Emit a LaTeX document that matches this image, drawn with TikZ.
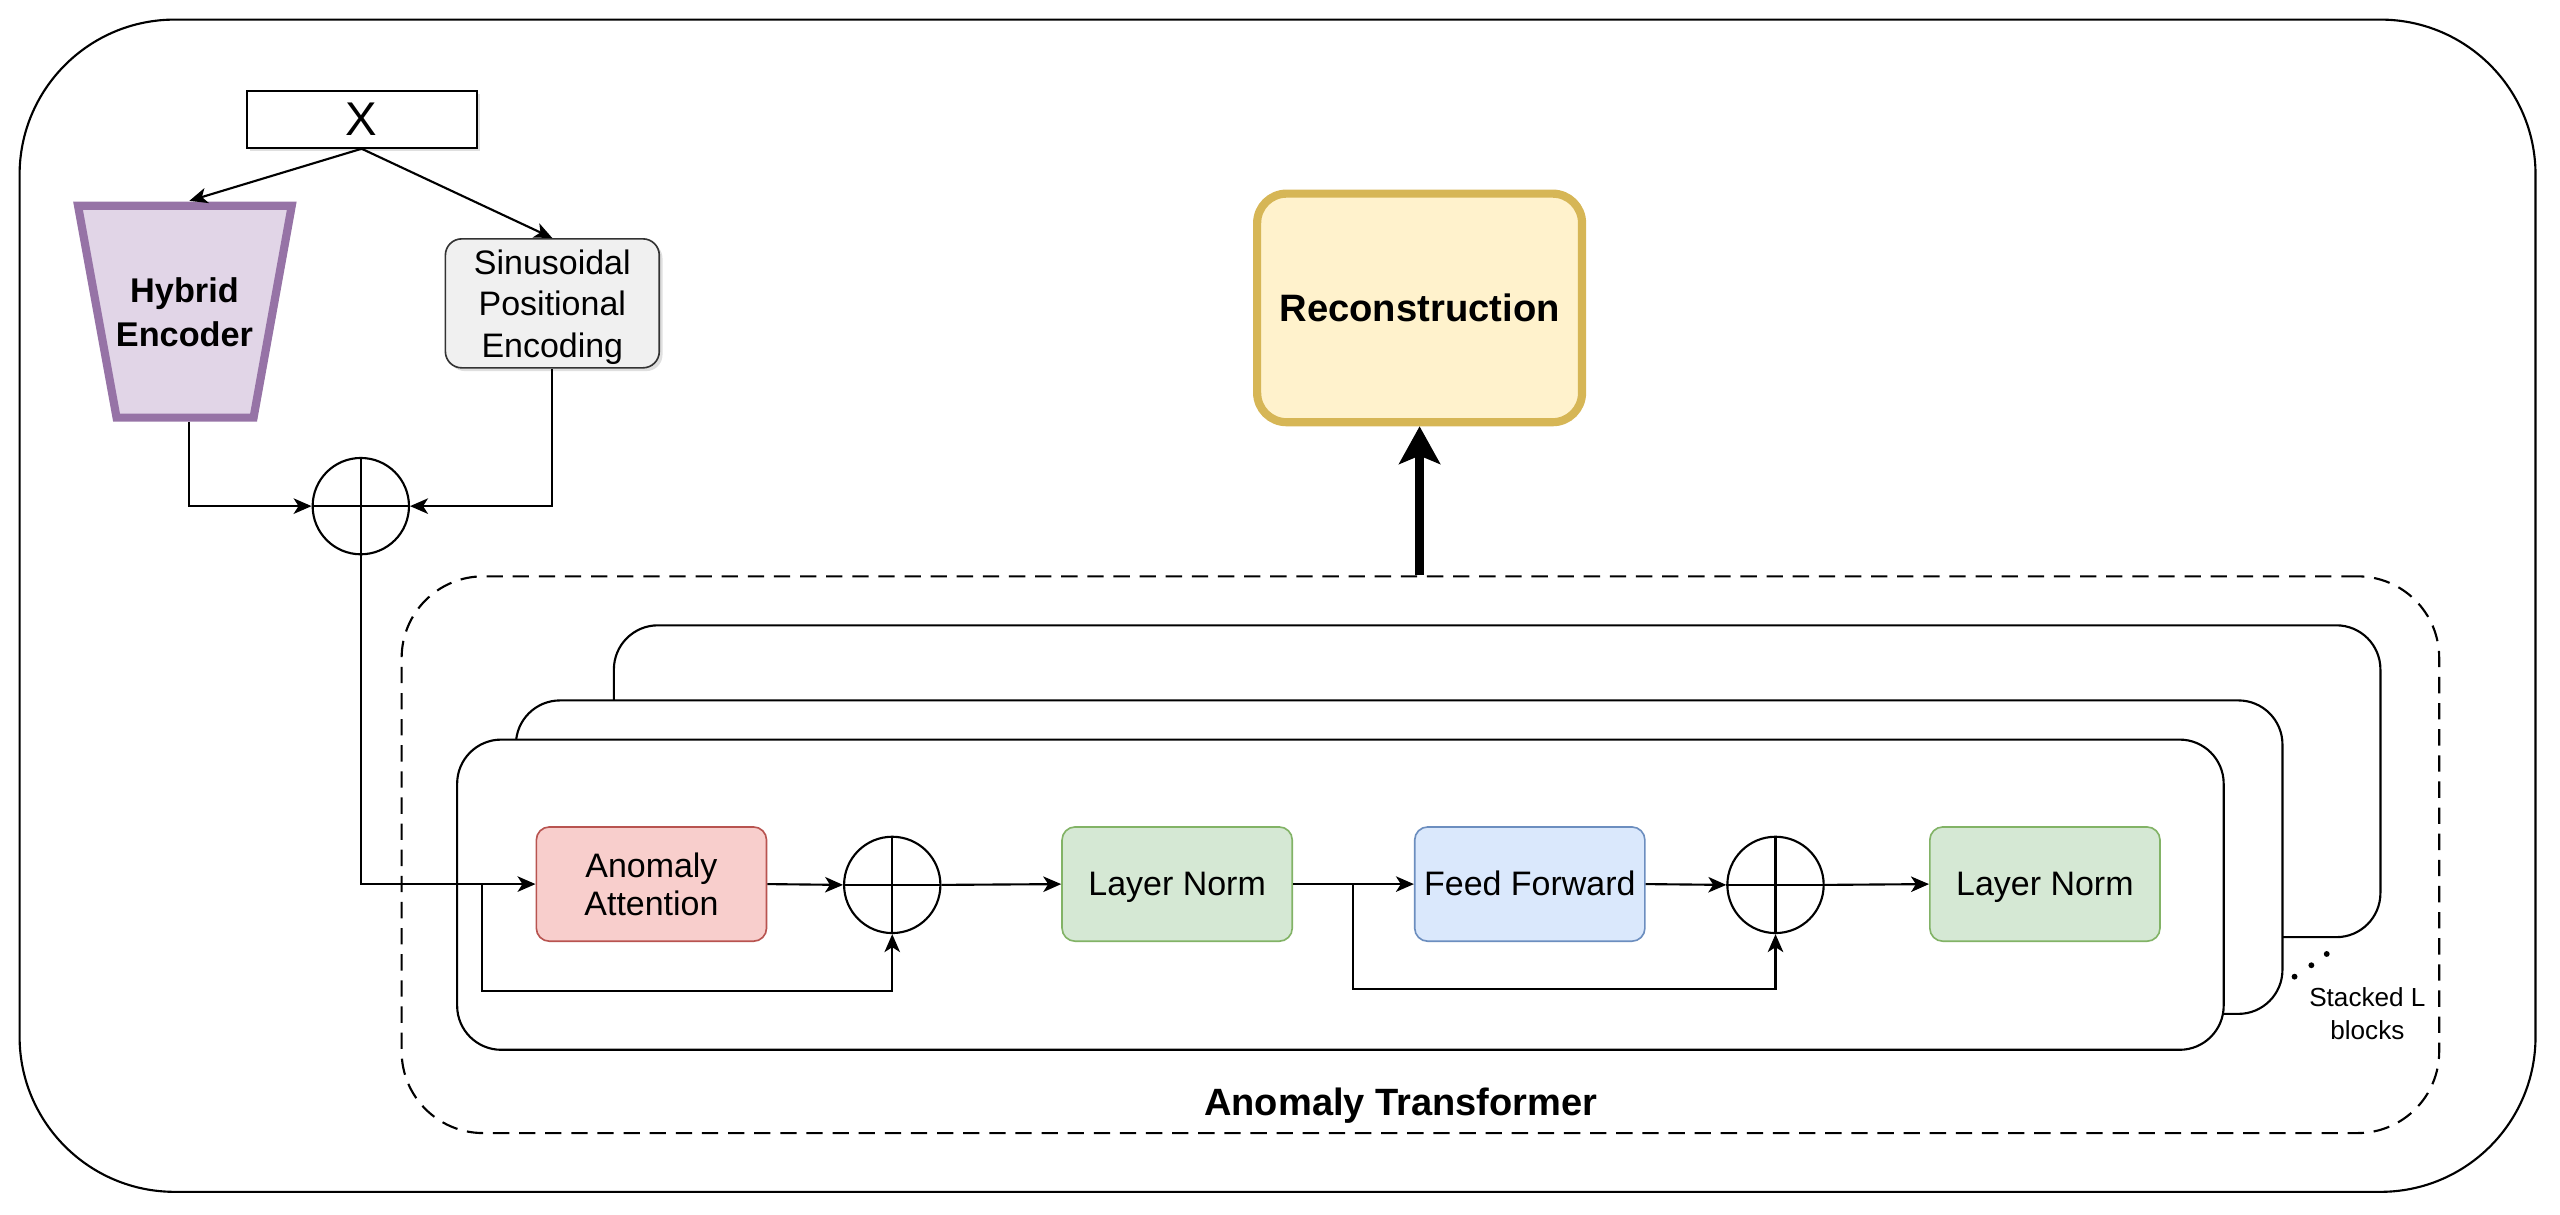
\documentclass[tikz,border=0pt]{standalone}
\usepackage{fontspec}
\setmainfont{Liberation Sans}
\usetikzlibrary{arrows.meta,shadows,calc}
\definecolor{heS}{HTML}{9673A6}
\definecolor{heF}{HTML}{E1D5E7}
\definecolor{recS}{HTML}{D6B656}
\definecolor{recF}{HTML}{FFF2CC}
\definecolor{aaS}{HTML}{B85450}
\definecolor{aaF}{HTML}{F8CECC}
\definecolor{lnS}{HTML}{82B366}
\definecolor{lnF}{HTML}{D5E8D4}
\definecolor{ffS}{HTML}{6C8EBF}
\definecolor{ffF}{HTML}{DAE8FC}
\definecolor{sinF}{HTML}{F0F0F0}
\begin{document}
\begin{tikzpicture}[x=1pt,y=-1pt,
  conn/.style={line width=1.3pt, -{Stealth[length=11pt,width=9.5pt,inset=3pt]}},
  plain/.style={line width=1.3pt},
  shade1/.style={drop shadow={shadow xshift=2pt, shadow yshift=-2pt, opacity=0.25}},
  rowbox/.style={draw, rounded corners=8pt, line width=1pt, minimum width=141pt, minimum height=70pt,
    align=center, inner sep=0pt, font=\fontsize{20.8}{23.5}\selectfont},
  row1/.style={rowbox, text height=18.8pt, text depth=4.4pt},
  adder/.style={draw, circle, line width=1.3pt, minimum size=59pt, inner sep=0pt},
  blk/.style={draw, fill=white, rounded corners=27pt, line width=1.3pt, inner sep=0pt}
]
\useasboundingbox (0,0) rectangle (1568,744);

% outer frame
\draw[line width=1.3pt, rounded corners=95pt] (12,12) rectangle (1553,730);

% dashed transformer frame
\node[draw, line width=1.3pt, dash pattern=on 10pt off 6pt, rounded corners=50pt,
  minimum width=1248pt, minimum height=341pt, inner sep=0pt] (tr) at (870,523.5) {};
\node[text height=21.1pt, text depth=4.9pt, font=\bfseries\fontsize{23.3}{26}\selectfont] (trl) at (858,675) {Anomaly Transformer};

% stacked blocks
\node[blk, minimum width=1082pt, minimum height=191pt] (b3) at (917,478.5) {};
\node[blk, minimum width=1082pt, minimum height=192pt] (b2) at (857,525) {};
\node[blk, minimum width=1082pt, minimum height=190pt] (b1) at (821,548) {};

\fill (1405.4,598.2) circle (1.8pt) (1415.7,591.2) circle (1.8pt) (1425.1,584.3) circle (1.8pt);
\node[align=center, font=\fontsize{16}{20}\selectfont] (stk) at (1450,621) {Stacked L\\blocks};

% top part
\node[draw, fill=white, line width=1.2pt, minimum width=141pt, minimum height=35pt, inner sep=0pt, shade1,
  text height=26.2pt, text depth=6.1pt, font=\fontsize{29}{30}\selectfont] (x) at (221.5,73) {X};

\filldraw[draw=heS, fill=heF, line width=5pt, line join=miter, shade1]
  (47.8,126) -- (178.7,126) -- (155.3,255.8) -- (71.4,255.8) -- cycle;
\node[align=center, font=\bfseries\fontsize{21}{27}\selectfont] (he) at (113,191.5) {Hybrid\\Encoder};
\coordinate (hetop) at (116,123);
\coordinate (hebot) at (115.7,258.3);

\node[draw=black!80, fill=sinF, line width=1pt, rounded corners=10pt, minimum width=131pt, minimum height=79pt,
  inner sep=0pt, shade1] (sin) at (338.3,185.8) {};
\node[align=center, font=\fontsize{20.8}{25.5}\selectfont] (sint) at (338.3,188)
  {Sinusoidal\\Positional\\Encoding};

\node[adder] (p1) at (221,310) {};
\draw[plain] (p1.north) -- (p1.south) (p1.west) -- (p1.east);

\draw[conn] (x.south) -- (hetop);
\draw[conn] (x.south) -- (sin.north);
\draw[conn] (hebot) |- (p1.west);
\draw[conn] (sin.south) |- (p1.east);

% reconstruction
\node[draw=recS, fill=recF, line width=5pt, rounded corners=18pt, minimum width=199pt, minimum height=140pt,
  inner sep=0pt, text height=21.2pt, text depth=5pt, font=\bfseries\fontsize{23.4}{26}\selectfont] (rec) at (869.5,188.6) {Reconstruction};
\draw[line width=5.5pt, -{Stealth[length=23pt,width=25pt,inset=5pt]}] (rec.south |- tr.north) -- (rec.south);

% block row
\node[rowbox, draw=aaS, fill=aaF] (aa) at (399,541.5) {Anomaly\\Attention};
\node[adder] (p2) at (546.5,542) {};
\draw[plain] (p2.north) -- (p2.south) (p2.west) -- (p2.east);
\node[row1, draw=lnS, fill=lnF] (ln1) at (721,541.5) {Layer Norm};
\node[row1, draw=ffS, fill=ffF] (ff) at (937,541.5) {Feed Forward};
\node[adder] (p3) at (1087.5,542) {};
\draw[plain] (p3.north) -- (p3.south) (p3.west) -- (p3.east);
\node[row1, draw=lnS, fill=lnF] (ln2) at (1252.5,541.5) {Layer Norm};

\coordinate (s1) at (295,541.5);
\coordinate (s2) at (828.5,541.5);

\draw[conn] (p1.south) |- (aa.west);
\draw[conn] (s1) -- ++(0,65.5) -| (p2.south);
\draw[conn] (aa.east) -- (p2.west);
\draw[conn] (p2.east) -- (ln1.west);
\draw[conn] (ln1.east) -- (ff.west);
\draw[conn] (s2) -- ++(0,64.5) -| (p3.south);
\draw[conn] (ff.east) -- (p3.west);
\draw[conn] (p3.east) -- (ln2.west);
\end{tikzpicture}
\end{document}
